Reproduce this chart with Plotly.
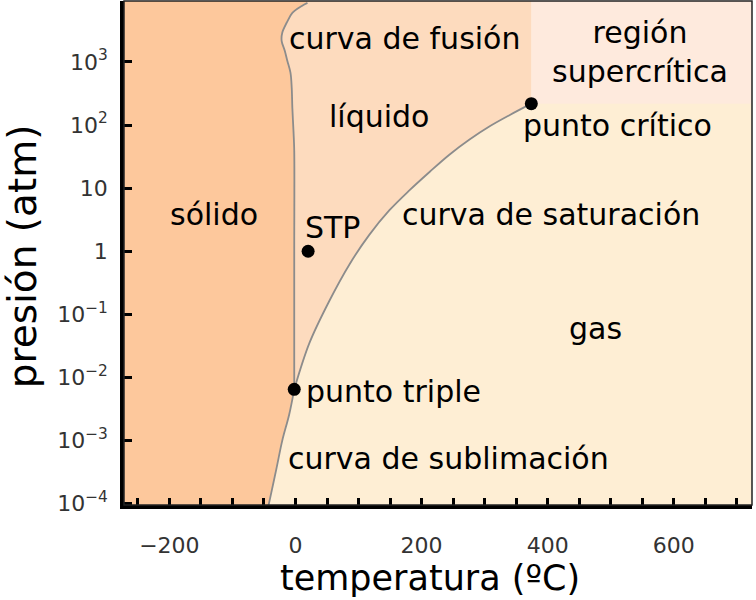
import numpy as np
import plotly.graph_objects as go

# ---- data (temperature in °C, pressure in atm) ----
sat_T = [-2, 22, 54, 86, 117, 149, 181, 213, 244, 276, 308, 340, 374]
sat_P = [0.0065, 0.035, 0.166, 0.63, 1.82, 4.47, 9.3, 18.2, 33.9, 58.9, 95.5, 144.5, 218]

sub_T = [-46, -40, -30, -21, -10, -2]
sub_P = [6.7e-5, 1.26e-4, 3.7e-4, 1.0e-3, 2.6e-3, 6.5e-3]

fus_T = [-2, -2, -2, -3, -5, -6, -8, -13, -17, -22, -21, -14, -5, 10, 19]
fus_P = [0.0065, 1, 39, 73, 187, 390, 675, 1040, 1500, 2160, 2900, 4170, 5980, 7700, 8600]

point_names = ["punto triple", "STP", "punto crítico"]
point_T = [-2, 20, 374]
point_P = [0.0065, 1.0, 218]

x_minor_vals = list(range(-250, 751, 50))
x_label_vals = [-200, 0, 200, 400, 600]
x_tick_labels = ["−200", "0", "200", "400", "600"]
y_tick_vals = [1e-4, 1e-3, 1e-2, 1e-1, 1, 10, 1e2, 1e3]
y_tick_labels = ["10<sup>−4</sup>", "10<sup>−3</sup>", "10<sup>−2</sup>", "10<sup>−1</sup>",
                 "1", "10", "10<sup>2</sup>", "10<sup>3</sup>"]

# ---- styling ----
C_SOLID = "#FDC89C"
C_LIQ = "#FDDBBE"
C_GAS = "#FEEED4"
C_SUPER = "#FEEADD"
C_LINE = "#8C8C8C"
FONT = "DejaVu Sans"

X_RANGE = [-272, 724]
Y_RANGE = [-4.02, 3.965]
X_LO, X_HI = -1000, 2000
P_LO, P_HI = 1e-6, 1e6

fig = go.Figure()

# solid region
solid_x = [X_LO, sub_T[0]] + sub_T + fus_T[1:] + [fus_T[-1], X_LO]
solid_y = [P_LO, P_LO] + sub_P + fus_P[1:] + [P_HI, P_HI]
fig.add_trace(go.Scatter(x=solid_x, y=solid_y, fill="toself", fillcolor=C_SOLID,
                         mode="none", hoverinfo="skip", showlegend=False))

# liquid region
liq_x = fus_T + [fus_T[-1], point_T[2]] + sat_T[::-1]
liq_y = fus_P + [P_HI, P_HI] + sat_P[::-1]
fig.add_trace(go.Scatter(x=liq_x, y=liq_y, fill="toself", fillcolor=C_LIQ,
                         mode="none", hoverinfo="skip", showlegend=False))

# supercritical region
sc_x = [point_T[2], X_HI, X_HI, point_T[2], point_T[2]]
sc_y = [point_P[2], point_P[2], P_HI, P_HI, point_P[2]]
fig.add_trace(go.Scatter(x=sc_x, y=sc_y, fill="toself", fillcolor=C_SUPER,
                         mode="none", hoverinfo="skip", showlegend=False))

# boundary curves
for xs, ys in [(sat_T, sat_P), (sub_T, sub_P), (fus_T, fus_P)]:
    fig.add_trace(go.Scatter(x=xs, y=ys, mode="lines",
                             line=dict(color=C_LINE, width=1.8, shape="spline", smoothing=1.0),
                             hoverinfo="skip", showlegend=False))

# points
fig.add_trace(go.Scatter(x=point_T, y=point_P, mode="markers",
                         marker=dict(color="black", size=13),
                         hoverinfo="skip", showlegend=False))

# region / curve labels (T, log10 P positions)
labels = [
    ("curva de fusión", 173, 3.366),
    ("líquido", 133, 2.13),
    ("región<br>supercrítica", 546, 3.16),
    ("punto crítico", 511, 1.99),
    ("sólido", -130, 0.58),
    ("STP", 59, 0.375),
    ("curva de saturación", 405, 0.58),
    ("gas", 476, -1.22),
    ("punto triple", 156, -2.22),
    ("curva de sublimación", 243, -3.28),
]
for txt, tx, ty in labels:
    fig.add_annotation(x=tx, y=ty, xref="x", yref="y", text=txt,
                       showarrow=False, xanchor="center", yanchor="middle",
                       font=dict(family=FONT, size=30, color="black"))

# axis titles
fig.add_annotation(text="temperatura (ºC)", xref="paper", yref="paper",
                   x=0.487, y=-0.145, showarrow=False, xanchor="center", yanchor="middle",
                   font=dict(family=FONT, size=35, color="black"))
fig.add_annotation(text="presión (atm)", xref="paper", yref="paper",
                   x=-0.162, y=0.494, showarrow=False, xanchor="center", yanchor="middle",
                   textangle=-90, font=dict(family=FONT, size=39, color="black"))

# thin frame
fig.add_shape(type="rect", xref="paper", yref="paper", x0=0, y0=0, x1=1, y1=1,
              line=dict(color="#222222", width=1.5), layer="above")

fig.update_layout(
    width=756, height=600,
    margin=dict(l=124, r=4, t=1, b=95, autoexpand=False),
    paper_bgcolor="white", plot_bgcolor=C_GAS,
    showlegend=False,
    xaxis=dict(range=X_RANGE, tickmode="array", tickvals=x_label_vals, ticktext=x_tick_labels,
               ticks="inside", ticklen=7, tickwidth=2.5, tickcolor="black",
               minor=dict(tickmode="array", tickvals=x_minor_vals, ticks="inside",
                          ticklen=7, tickwidth=2.5, tickcolor="black", showgrid=False),
               showline=True, linecolor="black", linewidth=3.5, automargin=False,
               showgrid=False, zeroline=False, ticklabelstandoff=18,
               tickfont=dict(family=FONT, size=22, color="#333333")),
    yaxis=dict(type="log", range=Y_RANGE, tickmode="array", tickvals=y_tick_vals,
               ticktext=y_tick_labels, automargin=False,
               ticks="inside", ticklen=8, tickwidth=2.5, tickcolor="black",
               showline=True, linecolor="black", linewidth=3.5,
               showgrid=False, zeroline=False, ticklabelstandoff=8,
               tickfont=dict(family=FONT, size=22, color="#333333")),
)

fig.write_html("out.html", config={"displayModeBar": False},
               post_script="document.body.style.margin='0';")
